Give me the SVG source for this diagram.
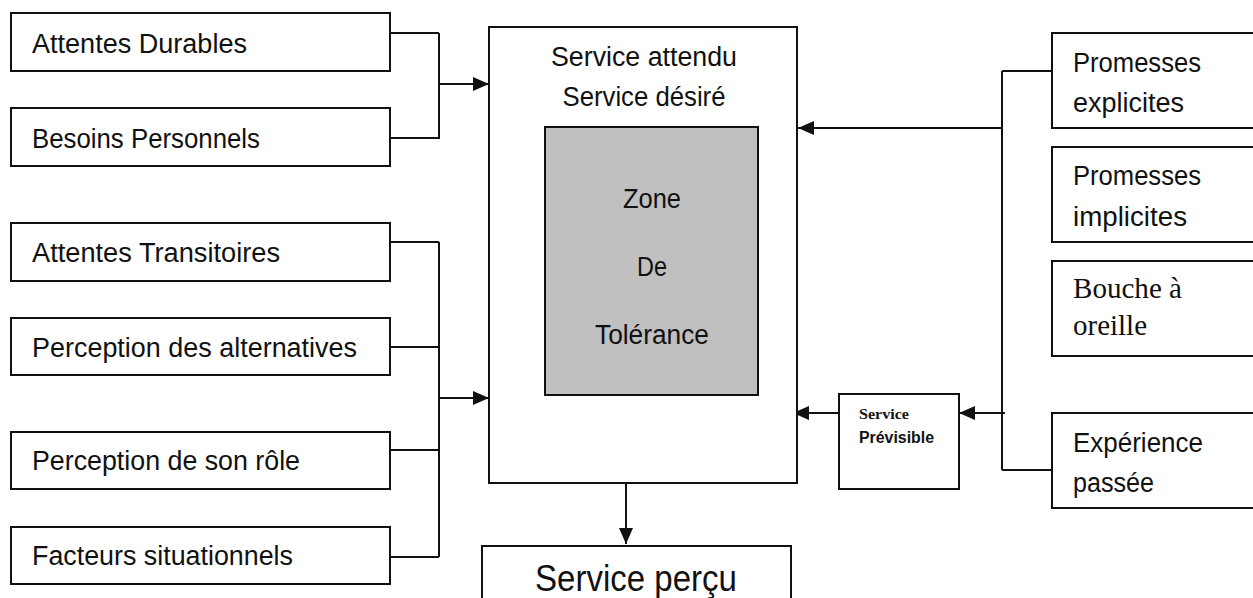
<svg xmlns="http://www.w3.org/2000/svg" width="1253" height="598" viewBox="0 0 1253 598">
  <style>
    .box { fill: #ffffff; stroke: #111111; stroke-width: 2; }
    .zone { fill: #c0c0c0; stroke: #111111; stroke-width: 2; }
    .wire { fill: none; stroke: #111111; stroke-width: 2; }
    .lbl { font-family: "Liberation Sans", Arial, sans-serif; font-size: 27px; fill: #111111; }
    .serif { font-family: "Liberation Serif", "Times New Roman", serif; font-size: 29px; fill: #111111; }
    .mid { text-anchor: middle; }
  </style>
  <defs>
    <marker id="arrow" viewBox="0 0 16 14" refX="16" refY="7" markerWidth="16" markerHeight="14" markerUnits="userSpaceOnUse" orient="auto">
      <path d="M0,0 L16,7 L0,14 Z" fill="#111111"/>
    </marker>
  </defs>

  <!-- connectors -->
  <g id="connectors">
    <!-- lasting expectations bracket -->
    <path class="wire" d="M390,33 H439 M390,138 H439 M439,33 V139"/>
    <line class="wire" x1="439" y1="84" x2="489" y2="84" marker-end="url(#arrow)"/>
    <!-- transient expectations bracket -->
    <path class="wire" d="M390,242 H439 M390,347 H439 M390,450 H439 M390,557 H439 M439,242 V557"/>
    <line class="wire" x1="439" y1="398" x2="489" y2="398" marker-end="url(#arrow)"/>
    <!-- right bracket -->
    <path class="wire" d="M1052,71 H1002 M1052,470 H1002 M1002,71 V470"/>
    <line class="wire" x1="1002" y1="128" x2="798" y2="128" marker-end="url(#arrow)"/>
    <line class="wire" x1="1005" y1="413" x2="959" y2="413" marker-end="url(#arrow)"/>
    <line class="wire" x1="839" y1="413" x2="793" y2="413" marker-end="url(#arrow)"/>
    <!-- down to perceived service -->
    <line class="wire" x1="626" y1="483" x2="626" y2="544" marker-end="url(#arrow)"/>
  </g>

  <!-- left column -->
  <g id="attentes-durables">
    <rect class="box" x="11" y="13" width="379" height="58"/>
    <text class="lbl" x="32" y="53" textLength="215" lengthAdjust="spacingAndGlyphs">Attentes Durables</text>
  </g>
  <g id="besoins-personnels">
    <rect class="box" x="11" y="108" width="379" height="58"/>
    <text class="lbl" x="32" y="148" textLength="228" lengthAdjust="spacingAndGlyphs">Besoins Personnels</text>
  </g>
  <g id="attentes-transitoires">
    <rect class="box" x="11" y="223" width="379" height="58"/>
    <text class="lbl" x="32" y="262" textLength="248" lengthAdjust="spacingAndGlyphs">Attentes Transitoires</text>
  </g>
  <g id="perception-alternatives">
    <rect class="box" x="11" y="318" width="379" height="57"/>
    <text class="lbl" x="32" y="357" textLength="325" lengthAdjust="spacingAndGlyphs">Perception des alternatives</text>
  </g>
  <g id="perception-role">
    <rect class="box" x="11" y="432" width="379" height="57"/>
    <text class="lbl" x="32" y="470" textLength="268" lengthAdjust="spacingAndGlyphs">Perception de son rôle</text>
  </g>
  <g id="facteurs-situationnels">
    <rect class="box" x="11" y="527" width="379" height="57"/>
    <text class="lbl" x="32" y="565" textLength="261" lengthAdjust="spacingAndGlyphs">Facteurs situationnels</text>
  </g>

  <!-- central block -->
  <g id="service-attendu">
    <rect class="box" x="489" y="27" width="308" height="456"/>
    <text class="lbl mid" x="644" y="66" textLength="186" lengthAdjust="spacingAndGlyphs">Service attendu</text>
    <text class="lbl mid" x="644" y="106" textLength="163" lengthAdjust="spacingAndGlyphs">Service désiré</text>
  </g>
  <g id="zone-tolerance">
    <rect class="zone" x="545" y="127" width="213" height="268"/>
    <text class="lbl mid" x="652" y="208" textLength="58" lengthAdjust="spacingAndGlyphs">Zone</text>
    <text class="lbl mid" x="652" y="276" textLength="30" lengthAdjust="spacingAndGlyphs">De</text>
    <text class="lbl mid" x="652" y="344" textLength="114" lengthAdjust="spacingAndGlyphs">Tolérance</text>
  </g>
  <g id="service-percu">
    <rect class="box" x="482" y="546" width="309" height="70"/>
    <text class="lbl mid" x="636" y="591" style="font-size:37px" textLength="202" lengthAdjust="spacingAndGlyphs">Service perçu</text>
  </g>
  <g id="service-previsible">
    <rect class="box" x="839" y="394" width="120" height="95"/>
    <text x="859" y="419" style="font-family:'Liberation Serif','Times New Roman',serif;font-size:15px;font-weight:bold;fill:#111111" textLength="50" lengthAdjust="spacingAndGlyphs">Service</text>
    <text x="859" y="443" style="font-family:'Liberation Sans',Arial,sans-serif;font-size:16px;font-weight:bold;fill:#111111" textLength="75" lengthAdjust="spacingAndGlyphs">Prévisible</text>
  </g>

  <!-- right column -->
  <g id="promesses-explicites">
    <rect class="box" x="1052" y="33" width="220" height="95"/>
    <text class="lbl" x="1073" y="72" textLength="128" lengthAdjust="spacingAndGlyphs">Promesses</text>
    <text class="lbl" x="1073" y="112" textLength="111" lengthAdjust="spacingAndGlyphs">explicites</text>
  </g>
  <g id="promesses-implicites">
    <rect class="box" x="1052" y="147" width="220" height="95"/>
    <text class="lbl" x="1073" y="185" textLength="128" lengthAdjust="spacingAndGlyphs">Promesses</text>
    <text class="lbl" x="1073" y="226" textLength="114" lengthAdjust="spacingAndGlyphs">implicites</text>
  </g>
  <g id="bouche-oreille">
    <rect class="box" x="1052" y="261" width="220" height="95"/>
    <text class="serif" x="1073" y="298" textLength="109" lengthAdjust="spacingAndGlyphs">Bouche à</text>
    <text class="serif" x="1073" y="335" textLength="74" lengthAdjust="spacingAndGlyphs">oreille</text>
  </g>
  <g id="experience-passee">
    <rect class="box" x="1052" y="413" width="220" height="95"/>
    <text class="lbl" x="1073" y="452" textLength="130" lengthAdjust="spacingAndGlyphs">Expérience</text>
    <text class="lbl" x="1073" y="492" textLength="81" lengthAdjust="spacingAndGlyphs">passée</text>
  </g>
</svg>
